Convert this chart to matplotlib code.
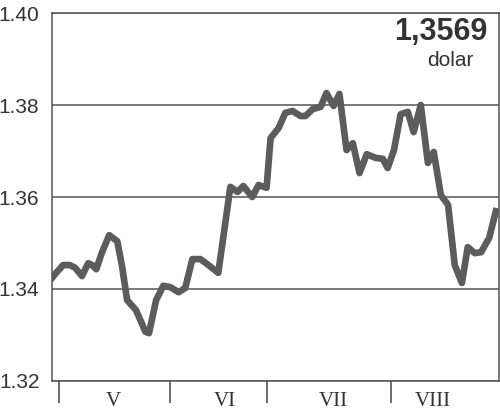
import matplotlib
matplotlib.use('Agg')
from matplotlib import pyplot as plt

# trading-day position (0..100 across the plot) and EUR/USD rate
day = [0, 1.1, 2.5, 4.0, 5.2, 6.7, 8.1, 9.0, 9.9, 11.2, 12.8, 14.6, 15.7, 16.8,
       18.8, 20.9, 21.7, 23.3, 24.9, 26.5, 28.3, 29.8, 31.4, 33.2, 35.0, 37.2,
       39.9, 41.5, 42.8, 44.8, 46.2, 48.0, 48.9, 50.7, 52.2, 53.8, 55.6, 56.7,
       58.3, 60.1, 61.4, 63.0, 64.3, 65.9, 67.3, 68.8, 70.4, 72.4, 74.0, 75.1,
       76.5, 78.0, 79.6, 80.9, 82.5, 84.1, 85.4, 87.0, 88.6, 90.1, 91.7, 93.0,
       94.6, 96.0, 97.8, 99.3]
rate = [1.3424, 1.3437, 1.3452, 1.3452, 1.3446, 1.3428, 1.3456, 1.3452, 1.3443,
        1.3480, 1.3517, 1.3504, 1.3448, 1.3376, 1.3354, 1.3307, 1.3304, 1.3376,
        1.3407, 1.3404, 1.3393, 1.3402, 1.3465, 1.3465, 1.3452, 1.3435, 1.3622,
        1.3611, 1.3624, 1.3600, 1.3626, 1.3620, 1.3728, 1.3750, 1.3783, 1.3787,
        1.3776, 1.3776, 1.3791, 1.3796, 1.3826, 1.3798, 1.3824, 1.3702, 1.3717,
        1.3652, 1.3693, 1.3685, 1.3683, 1.3663, 1.3702, 1.3780, 1.3785, 1.3741,
        1.3800, 1.3674, 1.3698, 1.3604, 1.3583, 1.3452, 1.3413, 1.3491, 1.3478,
        1.3480, 1.3511, 1.3569]

month_edges = [1.6, 26.5, 48.2, 75.8]
month_mid = [13.7, 38.6, 63.0, 85.2]
month_names = ['V', 'VI', 'VII', 'VIII']
yticks = [1.32, 1.34, 1.36, 1.38, 1.40]
ylabels = ['1.32', '1.34', '1.36', '1.38', '1.40']

fig = plt.figure(figsize=(5.00, 4.13), dpi=100)
ax = fig.add_axes([0.104, 0.0775, 0.894, 0.891])

ax.plot(day, rate, '-', color='#5c5c5c', lw=4.8, solid_joinstyle='round', zorder=3)
ax.set_xlim(0, 100)
ax.set_ylim(1.32, 1.40)

ax.set_yticks(yticks)
ax.set_yticklabels(ylabels, family='Liberation Sans', fontsize=15, color='#333333')
ax.tick_params(axis='y', length=0, pad=9)
for v in yticks:
    ax.axhline(v, color='#555555', lw=1.1, zorder=1)

ax.set_xticks(month_edges)
ax.set_xticklabels([])
ax.tick_params(axis='x', which='major', direction='out', length=16, width=1.1, color='#444444')
ax.set_xticks(month_mid, minor=True)
ax.set_xticklabels(month_names, minor=True, family='Liberation Serif', fontsize=15, color='#333333')
ax.tick_params(axis='x', which='minor', length=0, pad=8)

for s in ax.spines.values():
    s.set_color('#555555')
    s.set_linewidth(1.1)

ax.text(0.975, 0.988, '1,3569', transform=ax.transAxes, ha='right', va='top',
        family='Liberation Sans', fontweight='bold', fontsize=22, color='#333333')
ax.text(0.944, 0.898, 'dolar', transform=ax.transAxes, ha='right', va='top',
        family='Liberation Sans', fontsize=15, color='#333333')

fig.savefig('out.png', dpi=100)
